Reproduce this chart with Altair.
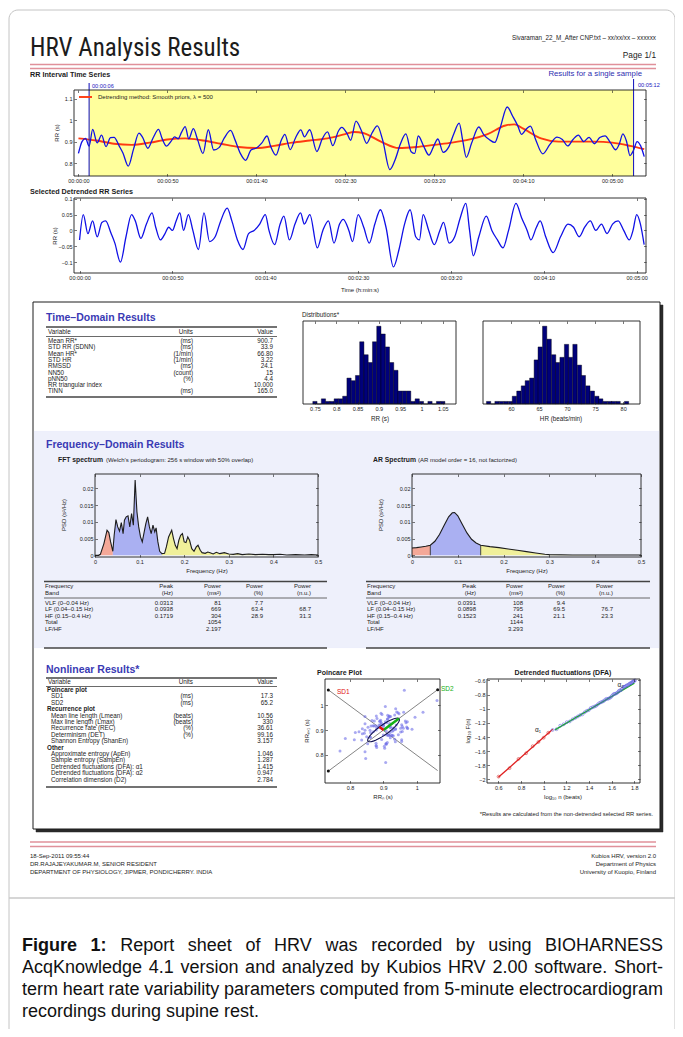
import math
import altair as alt
import pandas as pd

# ---------------------------------------------------------------- data
rr_time = [0, 2, 4, 6, 8, 10.5, 13, 15.5, 18, 20, 23, 25, 28, 31, 34, 36, 39, 42, 45, 47,
           49.5, 52, 54, 56, 58, 60, 62, 64.6, 67, 70, 73, 76, 79, 82, 85.5, 88, 91, 94, 97, 100,
           103, 106, 108, 111, 114, 116, 119, 122, 125, 127, 130, 134, 137, 140, 143, 146, 148, 151, 153, 156,
           159, 162, 165, 168, 171, 175, 178, 181, 184, 187, 189, 191, 194, 197, 200, 202, 205, 208, 211, 214,
           216, 218, 221, 225, 228, 231, 234, 237, 241, 244, 247, 249, 252, 254, 257, 261, 265, 269, 272, 275,
           278, 281, 284, 287, 290, 293, 296, 299, 302, 304, 306, 308, 310, 312, 314, 316, 318]
rr_values = [0.845, 0.9, 0.915,
             0.879, 0.957, 0.894, 0.93, 0.877, 0.918, 0.92, 0.878, 0.847, 0.786,
             0.866, 0.939, 0.921, 0.869, 0.918, 0.957, 0.915, 0.879, 0.901, 0.922,
             0.913, 0.944, 0.97, 0.913, 0.96, 0.908, 0.845, 0.955, 0.861, 0.872,
             0.917, 0.952, 0.908, 0.845, 0.813, 0.861, 0.87, 0.893, 0.926, 0.878,
             0.837, 0.906, 0.934, 0.863, 0.917, 0.955, 0.922, 0.955, 0.854, 0.912,
             0.945, 0.881, 0.947, 0.966, 0.937, 0.906, 0.995, 0.952, 0.892, 0.94,
             0.973, 0.907, 0.77, 0.816, 0.89, 0.936, 0.853, 0.845, 0.926, 0.879,
             0.837, 0.885, 0.912, 0.85, 0.873, 0.937, 0.986, 0.904, 0.827, 0.893,
             0.968, 0.93, 0.909, 0.896, 0.963, 1.061, 1.019, 0.972, 0.934, 0.961,
             0.972, 0.909, 0.843, 0.887, 0.921, 0.91, 0.88, 0.91, 0.93, 0.9,
             0.92, 0.89, 0.919, 0.927, 0.895, 0.862, 0.889, 0.936, 0.903, 0.835,
             0.86, 0.9, 0.88, 0.83]
trend_time = [0, 10, 20, 30, 40, 50, 60, 70, 80, 90, 100, 110, 120, 130, 140, 150, 155, 160,
              170, 180, 190, 200, 210, 220, 230, 240, 245, 250, 260, 270, 280, 290, 300, 310, 318]
trend_values = [0.915, 0.905, 0.89, 0.885, 0.895, 0.91, 0.915, 0.905, 0.89, 0.875, 0.87, 0.88, 0.895,
                0.905, 0.915, 0.935, 0.945, 0.94, 0.9, 0.87, 0.875, 0.885, 0.895, 0.91, 0.935, 0.975,
                0.98, 0.96, 0.915, 0.9, 0.9, 0.9, 0.895, 0.88, 0.865]
sel_start, sel_end = 6, 312

det_time = [0, 2, 4.5, 7, 9.5, 12, 14, 17, 19, 22,
            25, 28, 30, 33, 36, 39, 41, 43.5, 46, 48,
            50, 52, 54, 56, 58.6, 61, 64, 67, 70, 73,
            76, 79.5, 82, 85, 88, 91, 94, 97, 100, 102,
            105, 108, 110, 113, 116, 119, 121, 124, 128, 131,
            134, 137, 140, 142, 145, 147, 150, 153, 156, 159,
            162, 165, 169, 172, 175, 178, 181, 183, 185, 188,
            191, 194, 196, 199, 202, 205, 208, 210, 212, 215,
            219, 222, 225, 228, 231, 235, 238, 241, 243, 246,
            248, 251, 255, 259, 263, 266, 269, 272, 275, 278,
            281, 284, 287, 290, 293, 296, 298, 300, 302, 304]
det_values = [-0.03, 0.05, -0.01, 0.03, -0.02, 0.025, 0.03, -0.01, -0.04, -0.10,
              -0.02, 0.05, 0.03, -0.025, 0.02, 0.055, 0.01, -0.03, -0.01, 0.01,
              0.0, 0.03, 0.055, 0.0, 0.05, 0.0, -0.06, 0.055, -0.035, -0.02,
              0.03, 0.07, 0.03, -0.03, -0.06, -0.01, 0.0, 0.02, 0.05, 0.0,
              -0.045, 0.02, 0.045, -0.03, 0.02, 0.055, 0.02, 0.05, -0.055, 0.0,
              0.03, -0.04, 0.02, 0.035, 0.0, -0.035, 0.05, 0.01, -0.04, 0.02,
              0.065, 0.01, -0.115, -0.06, 0.02, 0.065, -0.02, -0.03, 0.05, 0.0,
              -0.045, 0.0, 0.025, -0.04, -0.02, 0.04, 0.085, 0.0, -0.08, -0.02,
              0.045, 0.0, -0.03, -0.055, 0.0, 0.085, 0.04, 0.0, -0.03, 0.01,
              0.03, -0.02, -0.07, -0.02, 0.02, 0.01, -0.02, 0.01, 0.03, 0.0,
              0.02, -0.01, 0.02, 0.03, 0.0, -0.03, 0.0, 0.05, 0.02, -0.045]

rr_bin_center = [0.75, 0.76, 0.77, 0.78, 0.79, 0.80, 0.81, 0.82, 0.83, 0.84, 0.85, 0.86, 0.87, 0.88,
                 0.89, 0.90, 0.91, 0.92, 0.93, 0.94, 0.95, 0.96, 0.97, 0.98, 0.99, 1.00, 1.01, 1.02,
                 1.03, 1.04, 1.05]
rr_bin_count = [1, 0, 2, 1, 1, 2, 2, 3, 10, 9, 11, 24, 19, 16, 24, 30, 27, 22, 16, 13, 5, 5, 5, 1, 2,
                1, 0, 1, 0, 1, 1]
hr_bin_center = [56.0, 56.8, 57.5, 58.3, 59.1, 59.9, 60.6, 61.4, 62.2, 62.9, 63.7, 64.5, 65.2, 66.0,
                 66.8, 67.6, 68.3, 69.1, 69.9, 70.6, 71.4, 72.2, 72.9, 73.7, 74.5, 75.3, 76.0, 76.8,
                 77.6, 78.3, 79.1, 79.9, 80.6]
hr_bin_count = [1, 0, 1, 1, 1, 1, 3, 5, 7, 9, 10, 17, 22, 30, 25, 19, 16, 18, 23, 18, 23, 15, 11, 7,
                5, 3, 2, 1, 1, 1, 1, 0, 1]

fft_freq = [0.0, 0.008, 0.012, 0.02, 0.027, 0.031, 0.035, 0.04, 0.043, 0.047, 0.051, 0.055, 0.059,
            0.063, 0.066, 0.07, 0.074, 0.078, 0.082, 0.086, 0.09, 0.094, 0.098, 0.102, 0.106, 0.11,
            0.114, 0.118, 0.122, 0.126, 0.13, 0.134, 0.137, 0.141, 0.145, 0.15, 0.156, 0.16, 0.165,
            0.172, 0.176, 0.18, 0.184, 0.188, 0.192, 0.196, 0.2, 0.204, 0.208, 0.212, 0.217, 0.222,
            0.227, 0.231, 0.236, 0.24, 0.247, 0.253, 0.258, 0.265, 0.272, 0.28, 0.29, 0.3, 0.31,
            0.32, 0.33, 0.345, 0.36, 0.375, 0.39, 0.4, 0.415, 0.43, 0.45, 0.47, 0.485, 0.5]
fft_psd = [0.0, 0.0, 0.0003, 0.0035, 0.0075, 0.0068, 0.004, 0.0012, 0.006, 0.0107, 0.0085, 0.0072,
           0.0098, 0.0065, 0.0105, 0.0115, 0.0118, 0.0085, 0.0125, 0.009, 0.0225, 0.013, 0.0085,
           0.0055, 0.004, 0.0068, 0.0095, 0.0115, 0.0085, 0.0065, 0.009, 0.007, 0.0082, 0.004,
           0.0012, 0.0005, 0.0006, 0.0025, 0.0055, 0.0075, 0.005, 0.003, 0.002, 0.0045, 0.006,
           0.0065, 0.004, 0.0038, 0.0055, 0.0045, 0.002, 0.0012, 0.0025, 0.003, 0.0015, 0.0008,
           0.0006, 0.001, 0.0008, 0.0004, 0.0009, 0.0005, 0.0008, 0.0004, 0.0003, 0.0005, 0.0002,
           0.0004, 0.0002, 0.0003, 0.0002, 0.0002, 0.0003, 0.0001, 0.0002, 0.0001, 0.0002, 0.0001]
ar_freq = [0, 0.01, 0.02, 0.03, 0.04, 0.05, 0.06, 0.07, 0.08, 0.088, 0.093, 0.1, 0.11, 0.12, 0.13,
           0.14, 0.15, 0.17, 0.19, 0.21, 0.23, 0.25, 0.27, 0.29, 0.3, 0.35, 0.4, 0.45, 0.5]
ar_psd = [0.0022, 0.0023, 0.0025, 0.0027, 0.003, 0.0042, 0.0062, 0.0089, 0.0115, 0.0127, 0.0128,
          0.0118, 0.0092, 0.0067, 0.0048, 0.0037, 0.003, 0.0026, 0.0023, 0.0019, 0.0015, 0.0011,
          0.0007, 0.0003, 0.0002, 0.0001, 0.0001, 0.0001, 0.0001]
band_names = ["VLF", "LF", "HF"]
band_lo = [0.0, 0.04, 0.15]
band_hi = [0.04, 0.15, 0.4]
band_fill = ["#f4a898", "#aab0f2", "#f0f09a"]

mean_rr, sd1, sd2 = 0.9007, 0.0173, 0.0652

dfa1_logn = [0.602, 0.699, 0.778, 0.845, 0.903, 0.954, 1.0, 1.041]
dfa1_logf = [-1.96, -1.84, -1.71, -1.63, -1.53, -1.47, -1.41, -1.34]
dfa2_logn = [1.079, 1.114, 1.146, 1.176, 1.204, 1.230, 1.255, 1.279, 1.301, 1.322, 1.342, 1.362,
             1.380, 1.398, 1.415, 1.431, 1.447, 1.462, 1.477, 1.491, 1.505, 1.519, 1.531, 1.544,
             1.556, 1.568, 1.580, 1.591, 1.602, 1.613, 1.623, 1.633, 1.643, 1.653, 1.663, 1.672,
             1.681, 1.690, 1.699, 1.708, 1.716, 1.724, 1.732, 1.740, 1.748, 1.756, 1.763, 1.771,
             1.778, 1.785, 1.792, 1.799, 1.806]
dfa2_logf = [-1.30, -1.29, -1.24, -1.22, -1.19, -1.18, -1.15, -1.13, -1.11, -1.09, -1.08, -1.05,
             -1.03, -1.02, -0.99, -0.98, -0.97, -0.96, -0.94, -0.92, -0.91, -0.90, -0.89, -0.87,
             -0.86, -0.86, -0.85, -0.84, -0.82, -0.80, -0.79, -0.79, -0.78, -0.77, -0.75, -0.74,
             -0.74, -0.72, -0.70, -0.69, -0.69, -0.68, -0.67, -0.67, -0.66, -0.65, -0.64, -0.64,
             -0.63, -0.62, -0.61, -0.61, -0.60]
fit1_x, fit1_y = [0.6, 1.08], [-1.97, -1.29]
fit2_x, fit2_y = [1.1, 1.8], [-1.30, -0.637]

td_vars = ["Mean RR*", "STD RR (SDNN)", "Mean HR*", "STD HR", "RMSSD", "NN50", "pNN50",
           "RR triangular index", "TINN"]
td_units = ["(ms)", "(ms)", "(1/min)", "(1/min)", "(ms)", "(count)", "(%)", "", "(ms)"]
td_values = ["900.7", "33.9", "66.80", "3.22", "24.1", "15", "4.4", "10.000", "165.0"]

fq_bands = ["VLF (0\u20130.04 Hz)", "LF (0.04\u20130.15 Hz)", "HF (0.15\u20130.4 Hz)", "Total", "LF/HF"]
fft_peak = ["0.0313", "0.0938", "0.1719", "", ""]
fft_pow = ["81", "669", "304", "1054", "2.197"]
fft_pct = ["7.7", "63.4", "28.9", "", ""]
fft_nu = ["", "68.7", "31.3", "", ""]
ar_peak = ["0.0391", "0.0898", "0.1523", "", ""]
ar_pow = ["108", "795", "241", "1144", "3.293"]
ar_pct = ["9.4", "69.5", "21.1", "", ""]
ar_nu = ["", "76.7", "23.3", "", ""]

nl_groups = ["Poincare plot", "", "", "Recurrence plot", "", "", "", "", "", "Other", "", "", "", "", ""]
nl_items = ["", "SD1", "SD2", "", "Mean line length (Lmean)", "Max line length (Lmax)",
            "Recurrence rate (REC)", "Determinism (DET)", "Shannon Entropy (ShanEn)", "",
            "Approximate entropy (ApEn)", "Sample entropy (SampEn)",
            "Detrended fluctuations (DFA): \u03b11", "Detrended fluctuations (DFA): \u03b12",
            "Correlation dimension (D2)"]
nl_units = ["", "(ms)", "(ms)", "", "(beats)", "(beats)", "(%)", "(%)", "", "", "", "", "", "", ""]
nl_values = ["", "17.3", "65.2", "", "10.56", "330", "36.61", "99.16", "3.157", "", "1.046", "1.287",
             "1.415", "0.947", "2.784"]

# ---------------------------------------------------------------- helpers
W, H = 667, 1021
M = 8
FONT = "Liberation Sans"
TITLEFONT = "Liberation Sans Narrow, Roboto Condensed, Roboto, Liberation Sans"
INK = "#1c1c1c"
HEAD = "#3a3ab4"
ONE = pd.DataFrame({"k": [0]})
layers = []


def X(v):
    return v - M


def Y(v):
    return v - M


def add(ch):
    layers.append(ch)


def text(s, x, y, size=6.3, align="left", bold=False, color=INK, font=FONT, angle=0, baseline="alphabetic"):
    props = dict(text=s, align=align, baseline=baseline, fontSize=size, font=font, color=color,
                 fontWeight="bold" if bold else "normal")
    if angle:
        props["angle"] = angle
    add(alt.Chart(ONE).mark_text(**props).encode(x=alt.value(X(x)), y=alt.value(Y(y))))


def hline(x0, x1, y, color=INK, width=1.0):
    add(alt.Chart(ONE).mark_rule(color=color, strokeWidth=width).encode(
        x=alt.value(X(x0)), x2=alt.value(X(x1)), y=alt.value(Y(y))))


def box(x0, y0, x1, y1, fill="transparent", stroke=INK, sw=1.0, radius=0):
    props = dict(fill=fill, stroke=stroke, strokeWidth=sw)
    if radius:
        props["cornerRadius"] = radius
    add(alt.Chart(ONE).mark_rect(**props).encode(
        x=alt.value(X(x0)), x2=alt.value(X(x1)), y=alt.value(Y(y0)), y2=alt.value(Y(y1))))


def scales(bx, xd, yd):
    x0, y0, x1, y1 = bx
    return (alt.Scale(domain=list(xd), range=[X(x0), X(x1)], nice=False, zero=False),
            alt.Scale(domain=list(yd), range=[Y(y1), Y(y0)], nice=False, zero=False))


TK = 2.5


def axes(bx, xd, yd, xvals, yvals, xexpr=None, lsize=5.5):
    x0, y0, x1, y1 = bx
    SX, SY = scales(bx, xd, yd)
    d = pd.DataFrame({"x": [xd[0]], "y": [yd[0]]})
    base = dict(grid=False, domain=False, ticks=True, tickColor=INK, tickWidth=0.6, tickSize=TK,
                labelFont=FONT, labelFontSize=lsize, labelColor=INK, labelOverlap=False,
                labelFlush=False, zindex=2, title="")
    xb = dict(base, orient="bottom", offset=Y(y1) - TK - H, values=xvals, labelPadding=2)
    if xexpr:
        xb["labelExpr"] = xexpr
    else:
        xb["format"] = "~g"
    yl = dict(base, orient="left", offset=-(X(x0) + TK), values=yvals, labelPadding=2, format="~g")
    xt = dict(base, orient="top", offset=-(Y(y0) + TK), values=xvals, labels=False)
    yr = dict(base, orient="right", offset=X(x1) - TK - W, values=yvals, labels=False)
    add(alt.Chart(d).mark_point(opacity=0).encode(
        x=alt.X("x:Q", scale=SX, axis=alt.Axis(**xb)), y=alt.Y("y:Q", scale=SY, axis=alt.Axis(**yl))))
    add(alt.Chart(d).mark_point(opacity=0).encode(
        x=alt.X("x:Q", scale=SX, axis=alt.Axis(**xt)), y=alt.Y("y:Q", scale=SY, axis=alt.Axis(**yr))))
    box(x0, y0, x1, y1, stroke=INK, sw=0.9)


def line(bx, xd, yd, xs, ys, color, sw=1.0, interp=None, order=False):
    SX, SY = scales(bx, xd, yd)
    df = pd.DataFrame({"a": xs, "b": ys, "i": list(range(len(xs)))})
    props = dict(color=color, strokeWidth=sw)
    if interp:
        props["interpolate"] = interp
    enc = dict(x=alt.X("a:Q", scale=SX, axis=None), y=alt.Y("b:Q", scale=SY, axis=None))
    if order:
        enc["order"] = alt.Order("i:Q")
    add(alt.Chart(df).mark_line(**props).encode(**enc))


def table_col(strings, x, y_first, step, align="left", size=6.3, bold=False, color=INK):
    n = len(strings)
    df = pd.DataFrame({"r": list(range(n)), "s": strings})
    df = df[df.s != ""]
    sc = alt.Scale(domain=[0, n - 1], range=[Y(y_first), Y(y_first + step * (n - 1))], nice=False, zero=False)
    add(alt.Chart(df).mark_text(align=align, baseline="alphabetic", fontSize=size, font=FONT, color=color,
                                fontWeight="bold" if bold else "normal").encode(
        x=alt.value(X(x)), y=alt.Y("r:Q", scale=sc, axis=None), text="s:N"))


REG = {" ": 278, "-": 333, ".": 278, ":": 278, "0": 556, "1": 556, "2": 556, "4": 556, "5": 556,
       "A": 667, "B": 667, "C": 722, "D": 722, "E": 667, "F": 611, "G": 778, "H": 722, "I": 278,
       "K": 667, "N": 722, "O": 778, "R": 722, "S": 667, "V": 667,
       "a": 556, "b": 556, "c": 500, "d": 556, "e": 556, "f": 278, "g": 556, "h": 556, "i": 222,
       "j": 222, "k": 500, "l": 222, "m": 833, "n": 556, "o": 556, "p": 556, "q": 556, "r": 333,
       "s": 500, "t": 278, "u": 556, "v": 500, "w": 722, "x": 500, "y": 500, "z": 500}
BOLD = {"F": 611, "i": 278, "g": 611, "u": 611, "r": 389, "e": 556, "1": 556, ":": 333, " ": 278}


def tw(s, size, bold=False):
    tab = BOLD if bold else REG
    return sum(tab.get(c, 556) for c in s) * size / 1000.0


PAGE_X = alt.Scale(domain=[0, 683], range=[-M, 683 - M], nice=False, zero=False)


def justified(words, x0, x1, y, size, nbold=0, justify=True):
    widths = [tw(w, size, i < nbold) for i, w in enumerate(words)]
    gap = (x1 - x0 - sum(widths)) / (len(words) - 1) if justify else tw(" ", size)
    xs, x = [], x0
    for w in widths:
        xs.append(x)
        x += w + gap
    df = pd.DataFrame({"x": xs, "w": words, "b": [i < nbold for i in range(len(words))]})
    for flag in (True, False):
        sub = df[df.b == flag]
        if len(sub):
            add(alt.Chart(sub).mark_text(align="left", baseline="alphabetic", fontSize=size, font=FONT,
                                         color="#111111", fontWeight="bold" if flag else "normal").encode(
                x=alt.X("x:Q", scale=PAGE_X, axis=None), y=alt.value(Y(y)), text="w:N"))


TIME_EXPR = ("'00:' + (floor(datum.value/60) < 10 ? '0' : '') + floor(datum.value/60) + ':' + "
             "(datum.value % 60 < 10 ? '0' : '') + (datum.value % 60)")

# ---------------------------------------------------------------- page frame & header
box(9, 10, 675, 1060, fill="white", stroke="#c4c4c4", sw=1.0, radius=9)
hline(9, 675, 898, color="#c8c8c8", width=1.5)

text("HRV Analysis Results", 30, 56, size=25, font=TITLEFONT)
text("Sivaraman_22_M_After CNP.txt \u2013 xx/xx/xx \u2013 xxxxxx", 656, 40, size=6.3, align="right")
text("Page 1/1", 656, 58, size=8.3, align="right")
hline(30, 656, 64.5, color="#e0909a", width=1.6)
hline(30, 656, 68.5, color="#e0909a", width=1.6)

# ---------------------------------------------------------------- RR interval time series
P1 = (74, 90, 646, 176)
X1, Y1 = (-2.5, 319), (0.74, 1.14)
S1x, S1y = scales(P1, X1, Y1)
text("RR Interval Time Series", 30, 77, size=7.2, bold=True)
text("Results for a single sample", 642, 76, size=7.8, align="right", color="#2e2eb0")
sel = pd.DataFrame({"a": [sel_start], "b": [sel_end]})
add(alt.Chart(sel).mark_rect(fill="#ffff9c").encode(
    x=alt.X("a:Q", scale=S1x, axis=None), x2="b:Q", y=alt.value(Y(90)), y2=alt.value(Y(176))))
line(P1, X1, Y1, trend_time, trend_values, "#ff3a10", sw=1.9, interp="monotone")
line(P1, X1, Y1, rr_time, rr_values, "#1010e6", sw=1.3, interp="monotone")
selm = pd.DataFrame({"t": [sel_start, sel_end]})
add(alt.Chart(selm.iloc[[0]]).mark_rule(color="#2020c0", strokeWidth=1.1).encode(
    x=alt.X("t:Q", scale=S1x, axis=None), y=alt.value(Y(83)), y2=alt.value(Y(176))))
add(alt.Chart(selm.iloc[[1]]).mark_rule(color="#2020c0", strokeWidth=1.1).encode(
    x=alt.X("t:Q", scale=S1x, axis=None), y=alt.value(Y(79)), y2=alt.value(Y(176))))
text("00:00:06", 92, 88, size=5.6, color="#2020c0")
text("00:05:12", 638, 87, size=5.6, color="#2020c0")
hline(79, 92, 97, color="#ff3a10", width=1.9)
text("Detrending method: Smooth priors, \u03bb = 500", 98, 99, size=6.0)
axes(P1, X1, Y1, [0, 50, 100, 150, 200, 250, 300], [0.8, 0.9, 1.0, 1.1], xexpr=TIME_EXPR)
text("RR (s)", 57, 133, size=6.0, angle=270, align="center", baseline="middle")

# ---------------------------------------------------------------- detrended series
P2 = (74, 198, 646, 273)
X2, Y2 = (-3, 305), (-0.134, 0.102)
text("Selected Detrended RR Series", 30, 194, size=7.2, bold=True)
line(P2, X2, Y2, det_time, det_values, "#1010e6", sw=1.3, interp="monotone")
axes(P2, X2, Y2, [0, 50, 100, 150, 200, 250, 300], [-0.1, -0.05, 0, 0.05, 0.1], xexpr=TIME_EXPR)
text("RR (s)", 55, 236, size=6.0, angle=270, align="center", baseline="middle")
text("Time (h:min:s)", 360, 292, size=6.0, align="center")

# ---------------------------------------------------------------- results box
box(36, 305, 663, 832, fill="#2a2a2a", stroke="#2a2a2a", sw=0.5)
box(33, 302, 660, 829, fill="white", stroke=INK, sw=1.0)
box(34, 431, 659, 648, fill="#eef0fb", stroke="#eef0fb", sw=0.1)

# time domain
text("Time\u2013Domain Results", 46, 321, size=10.5, bold=True, color=HEAD)
hline(46, 277, 327, color="#444444", width=1.6)
text("Variable", 48, 334)
text("Units", 193, 334, align="right")
text("Value", 273, 334, align="right")
hline(46, 277, 336.5, color="#444444", width=0.8)
table_col(td_vars, 48, 343, 6.3)
table_col(td_units, 193, 343, 6.3, align="right")
table_col(td_values, 273, 343, 6.3, align="right")
hline(46, 277, 397, color="#444444", width=1.6)

# distributions
text("Distributions*", 302, 317, size=6.3)
P3 = (303, 321, 456, 404)
X3, Y3 = (0.722, 1.081), (0, 32)
S3x, S3y = scales(P3, X3, Y3)
rrh = pd.DataFrame({"lo": [c - 0.005 for c in rr_bin_center], "hi": [c + 0.005 for c in rr_bin_center],
                    "n": rr_bin_count, "z": 0})
add(alt.Chart(rrh).mark_rect(fill="#00007a", stroke="#000000", strokeWidth=0.4).encode(
    x=alt.X("lo:Q", scale=S3x, axis=None), x2="hi:Q", y=alt.Y("n:Q", scale=S3y, axis=None), y2="z:Q"))
axes(P3, X3, Y3, [0.75, 0.8, 0.85, 0.9, 0.95, 1.0, 1.05], [])
text("RR (s)", 380, 421, size=6.3, align="center")

P4 = (483, 321, 640, 404)
X4, Y4 = (55, 83), (0, 32)
S4x, S4y = scales(P4, X4, Y4)
hrh = pd.DataFrame({"lo": [c - 0.385 for c in hr_bin_center], "hi": [c + 0.385 for c in hr_bin_center],
                    "n": hr_bin_count, "z": 0})
add(alt.Chart(hrh).mark_rect(fill="#00007a", stroke="#000000", strokeWidth=0.4).encode(
    x=alt.X("lo:Q", scale=S4x, axis=None), x2="hi:Q", y=alt.Y("n:Q", scale=S4y, axis=None), y2="z:Q"))
axes(P4, X4, Y4, [60, 65, 70, 75, 80], [])
text("HR (beats/min)", 561, 421, size=6.3, align="center")

# frequency domain
text("Frequency\u2013Domain Results", 46, 448, size=10.5, bold=True, color=HEAD)
text("FFT spectrum", 58, 462, size=6.8, bold=True)
text("(Welch\u2019s periodogram: 256 s window with 50% overlap)", 106, 462, size=6.0)
text("AR Spectrum", 373, 462, size=6.8, bold=True)
text("(AR model order = 16, not factorized)", 418, 462, size=6.0)

XF, YF = (0, 0.5), (-0.0005, 0.0243)


def spectrum(bx, freqs, psds, boundaries):
    SX, SY = scales(bx, XF, YF)
    df = pd.DataFrame({"f": freqs, "p": psds, "z": 0.0})
    for name, lo, hi, col in zip(band_names, band_lo, band_hi, band_fill):
        sub = df[(df.f >= lo - 1e-9) & (df.f <= hi + 1e-9)]
        add(alt.Chart(sub).mark_area(color=col, opacity=1).encode(
            x=alt.X("f:Q", scale=SX, axis=None), y=alt.Y("p:Q", scale=SY, axis=None), y2="z:Q"))
    if boundaries:
        bd = df[df.f.isin([0.04, 0.15])]
        add(alt.Chart(bd).mark_rule(color=INK, strokeWidth=0.8).encode(
            x=alt.X("f:Q", scale=SX, axis=None), y=alt.Y("p:Q", scale=SY, axis=None), y2="z:Q"))
    line(bx, XF, YF, freqs, psds, INK, sw=1.1)
    axes(bx, XF, YF, [0, 0.1, 0.2, 0.3, 0.4, 0.5], [0, 0.005, 0.01, 0.015, 0.02])


P5 = (95, 474, 318, 557)
spectrum(P5, fft_freq, fft_psd, False)
text("PSD (s\u00b2/Hz)", 64, 515, size=6.0, angle=270, align="center", baseline="middle")
text("Frequency (Hz)", 207, 573, size=6.0, align="center")
P6 = (412, 474, 641, 557)
spectrum(P6, ar_freq, ar_psd, True)
text("PSD (s\u00b2/Hz)", 381, 515, size=6.0, angle=270, align="center", baseline="middle")
text("Frequency (Hz)", 527, 573, size=6.0, align="center")


def freq_table(x0, x1, cols, peak, pw, pct, nu):
    hline(x0, x1, 581.5, color="#444444", width=1.6)
    text("Frequency", x0 + 1, 588, size=6.0)
    text("Band", x0 + 1, 594.5, size=6.0)
    for cx, h1, h2 in zip(cols, ["Peak", "Power", "Power", "Power"],
                          ["(Hz)", "(ms\u00b2)", "(%)", "(n.u.)"]):
        text(h1, cx, 588, size=6.0, align="right")
        text(h2, cx, 594.5, size=6.0, align="right")
    hline(x0, x1, 598, color="#444444", width=0.8)
    table_col(fq_bands, x0 + 1, 604.5, 6.6, size=6.0)
    for cx, col in zip(cols, [peak, pw, pct, nu]):
        table_col(col, cx, 604.5, 6.6, align="right", size=6.0)
    hline(x0, x1, 648, color="#444444", width=1.6)


freq_table(44, 327, [173, 221, 263, 311], fft_peak, fft_pow, fft_pct, fft_nu)
freq_table(366, 650, [476, 523, 565, 613], ar_peak, ar_pow, ar_pct, ar_nu)

# nonlinear
text("Nonlinear Results*", 46, 673, size=10.5, bold=True, color=HEAD)
hline(46, 277, 678, color="#444444", width=1.6)
text("Variable", 48, 684)
text("Units", 193, 684, align="right")
text("Value", 273, 684, align="right")
hline(46, 277, 686.5, color="#444444", width=0.8)
table_col(nl_groups, 47, 692, 6.4, bold=True)
table_col(nl_items, 51, 692, 6.4)
table_col(nl_units, 193, 692, 6.4, align="right")
table_col(nl_values, 273, 692, 6.4, align="right")
hline(46, 277, 787, color="#444444", width=1.6)

# Poincare
P7 = (325, 679, 440, 783)
X7, Y7 = (0.725, 1.07), (0.687, 1.106)
S7x, S7y = scales(P7, X7, Y7)
text("Poincare Plot", 317, 675, size=7.0, bold=True)
pc = pd.DataFrame({"a": rr_values[:-1], "b": rr_values[1:]})
line(P7, X7, Y7, [0.735, 1.063], [0.735, 1.063], "#777777", sw=0.9)
line(P7, X7, Y7, [0.735, 1.063], [1.062, 0.737], "#777777", sw=0.9)
add(alt.Chart(pc).mark_circle(size=9, color="#7070e8", opacity=0.6).encode(
    x=alt.X("a:Q", scale=S7x, axis=None), y=alt.Y("b:Q", scale=S7y, axis=None)))
ang = [i * 2 * math.pi / 48 for i in range(49)]
r2 = 1 / math.sqrt(2)
ex = [mean_rr + sd2 * math.cos(a) * r2 - sd1 * math.sin(a) * r2 for a in ang]
ey = [mean_rr + sd2 * math.cos(a) * r2 + sd1 * math.sin(a) * r2 for a in ang]
line(P7, X7, Y7, ex, ey, "#101050", sw=1.1, order=True)
line(P7, X7, Y7, [mean_rr, mean_rr + sd2 * r2], [mean_rr, mean_rr + sd2 * r2], "#16b016", sw=2.6)
line(P7, X7, Y7, [mean_rr, mean_rr - sd1 * r2], [mean_rr, mean_rr + sd1 * r2], "#e01010", sw=2.6)
ends = pd.DataFrame({"a": [0.735, 0.735, 1.063], "b": [0.735, 1.062, 1.063]})
add(alt.Chart(ends).mark_circle(size=9, color="#111111", opacity=1).encode(
    x=alt.X("a:Q", scale=S7x, axis=None), y=alt.Y("b:Q", scale=S7y, axis=None)))
axes(P7, X7, Y7, [0.8, 0.9, 1.0], [0.8, 0.9, 1.0])
text("SD1", 337, 694, size=6.5, color="#e01010")
text("SD2", 441, 691, size=6.5, color="#16b016")
text("RR\u2099\u208a\u2081 (s)", 307, 731, size=6.0, angle=270, align="center", baseline="middle")
text("RR\u2099 (s)", 383, 799, size=6.0, align="center")

# DFA
P8 = (487, 679, 640, 783)
X8, Y8 = (0.5, 1.85), (-2.05, -0.58)
S8x, S8y = scales(P8, X8, Y8)
text("Detrended fluctuations (DFA)", 563, 675, size=7.0, bold=True, align="center")
line(P8, X8, Y8, fit1_x, fit1_y, "#e02020", sw=1.3)
line(P8, X8, Y8, fit2_x, fit2_y, "#18b418", sw=1.5)
d1 = pd.DataFrame({"a": dfa1_logn, "b": dfa1_logf})
d2 = pd.DataFrame({"a": dfa2_logn, "b": dfa2_logf})
add(alt.Chart(d1).mark_point(size=8, color="#d02020", filled=False, strokeWidth=0.8).encode(
    x=alt.X("a:Q", scale=S8x, axis=None), y=alt.Y("b:Q", scale=S8y, axis=None)))
add(alt.Chart(d2).mark_point(size=8, color="#5a5ae0", filled=False, strokeWidth=0.8).encode(
    x=alt.X("a:Q", scale=S8x, axis=None), y=alt.Y("b:Q", scale=S8y, axis=None)))
axes(P8, X8, Y8, [0.6, 0.8, 1.0, 1.2, 1.4, 1.6, 1.8],
     [-2.0, -1.8, -1.6, -1.4, -1.2, -1.0, -0.8, -0.6])
lab = pd.DataFrame({"a": [0.95, 1.68], "b": [-1.30, -0.66], "s": ["\u03b1\u2081", "\u03b1\u2082"]})
add(alt.Chart(lab).mark_text(fontSize=6.5, font=FONT, color=INK, align="center").encode(
    x=alt.X("a:Q", scale=S8x, axis=None), y=alt.Y("b:Q", scale=S8y, axis=None), text="s:N"))
text("log\u2081\u2080 F(n)", 468, 731, size=6.0, angle=270, align="center", baseline="middle")
text("log\u2081\u2080 n (beats)", 563, 799, size=6.0, align="center")

text("*Results are calculated from the non-detrended selected RR series.", 653, 816, size=5.8, align="right")

# ---------------------------------------------------------------- footer
hline(30, 656, 842, color="#e0909a", width=1.6)
hline(30, 656, 846.5, color="#e0909a", width=1.6)
text("18-Sep-2011 09:55:44", 30, 858, size=6.0)
text("DR.RAJAJEYAKUMAR.M,   SENIOR RESIDENT", 30, 866, size=6.0)
text("DEPARTMENT OF PHYSIOLOGY, JIPMER, PONDICHERRY. INDIA", 30, 874, size=6.0)
text("Kubios HRV, version 2.0", 656, 858, size=6.0, align="right")
text("Department of Physics", 656, 866, size=6.0, align="right")
text("University of Kuopio, Finland", 656, 874, size=6.0, align="right")

# ---------------------------------------------------------------- caption
CAP = 18
justified(["Figure", "1:", "Report", "sheet", "of", "HRV", "was", "recorded", "by", "using", "BIOHARNESS"],
          22, 663, 951, CAP, nbold=2)
justified(["AcqKnowledge", "4.1", "version", "and", "analyzed", "by", "Kubios", "HRV", "2.00",
           "software.", "Short-"], 22, 663, 973, CAP)
justified(["term", "heart", "rate", "variability", "parameters", "computed", "from", "5-minute",
           "electrocardiogram"], 22, 663, 995, CAP)
justified(["recordings", "during", "supine", "rest."], 22, 663, 1017, CAP, justify=False)

chart = alt.layer(*layers).resolve_scale(x="independent", y="independent").properties(
    width=W, height=H, padding=0, autosize=alt.AutoSizeParams(type="none"), background="white"
).configure_view(strokeWidth=0)
chart.save("out.html", embed_options={"renderer": "svg", "actions": False})
